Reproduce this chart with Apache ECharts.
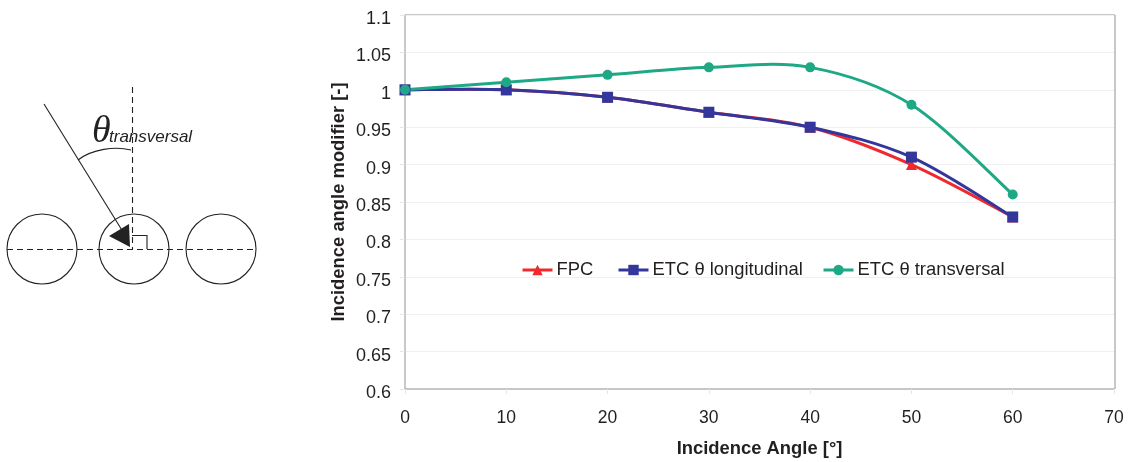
<!DOCTYPE html>
<html><head><meta charset="utf-8">
<style>html,body{margin:0;padding:0;background:#fff}#c{width:1132px;height:462px}</style>
<script src="https://cdn.jsdelivr.net/npm/echarts@6/dist/echarts.min.js"></script></head>
<body><div id="c"></div>
<script>
var angles=[0,10,20,30,40,50,60];
var fpc=[1,1,0.99,0.97,0.95,0.90,0.83];
var etcLong=[1,1,0.99,0.97,0.95,0.91,0.83];
var etcTrans=[1,1.01,1.02,1.03,1.03,0.98,0.86];
var names=['FPC','ETC θ longitudinal','ETC θ transversal'];
var colors=['#ee2a2e','#33369a','#1fa886'];
function pairs(v){return angles.map(function(a,i){return [a,v[i]];});}
var F='"Liberation Sans",Arial,sans-serif';
var INK='#231f20';
var st={stroke:'#222',lineWidth:1.1,fill:'none'};
var dash={stroke:'#222',lineWidth:1.1,lineDash:[6,4]};
function circle(x){return {type:'circle',shape:{cx:x,cy:249,r:35},style:st};}
// Spreadsheet-style smoothed line: Catmull-Rom through the data, placed with the axes' scales.
function curve(values,color){
  return {name:names[colors.indexOf(color)]+' curve',type:'custom',z:2,silent:true,data:pairs(values),encode:{x:0,y:1},
    renderItem:function(params,api){
      var i=params.dataIndex,n=values.length;
      if(i>=n-1) return null;
      var p=function(k){k=Math.max(0,Math.min(n-1,k));return api.coord([angles[k],values[k]]);};
      var p0=p(i-1),p1=p(i),p2=p(i+1),p3=p(i+2);
      return {type:'bezierCurve',shape:{x1:p1[0],y1:p1[1],x2:p2[0],y2:p2[1],
        cpx1:p1[0]+(p2[0]-p0[0])/6,cpy1:p1[1]+(p2[1]-p0[1])/6,
        cpx2:p2[0]-(p3[0]-p1[0])/6,cpy2:p2[1]-(p3[1]-p1[1])/6},
        style:{stroke:color,lineWidth:3,fill:'none'}};
    }};
}
function marks(i,values,symbol,size){
  return {name:names[i],type:'line',z:3,data:pairs(values),symbol:symbol,symbolSize:size,
    lineStyle:{color:colors[i],width:3,opacity:0},itemStyle:{color:colors[i]}};
}
function legend(i,left){
  return {top:261,left:left,itemWidth:30,itemHeight:13,padding:0,
    lineStyle:{opacity:1,width:3},
    textStyle:{fontFamily:F,fontSize:18.4,color:INK,padding:[0,0,0,-1]},data:[names[i]]};
}
var chart=echarts.init(document.getElementById('c'),null,{renderer:'canvas'});
chart.setOption({
 animation:false,
 grid:{left:405,right:18,top:15,bottom:73,show:false,outerBoundsMode:'none'},
 legend:[legend(0,521),legend(1,617),legend(2,822)],
 xAxis:{type:'value',min:0,max:70,interval:10,name:'Incidence Angle [°]',nameLocation:'middle',nameGap:51,nameMoveOverlap:false,
  nameTextStyle:{fontFamily:F,fontSize:18.4,fontWeight:'bold',color:INK},
  axisLine:{show:true,lineStyle:{color:'#b4b6b9',width:1.5}},axisTick:{show:true,length:5,lineStyle:{color:'#e6e6e6'}},
  axisLabel:{fontFamily:F,fontSize:17.5,color:INK,margin:20},splitLine:{show:false}},
 yAxis:{type:'value',min:0.6,max:1.1,interval:0.05,name:'Incidence angle modifier [-]',nameLocation:'middle',nameGap:57,nameMoveOverlap:false,
  nameTextStyle:{fontFamily:F,fontSize:18.4,fontWeight:'bold',color:INK},
  axisLine:{show:true,lineStyle:{color:'#b4b6b9',width:1.5}},axisTick:{show:true,length:5,lineStyle:{color:'#e6e6e6'}},
  axisLabel:{fontFamily:F,fontSize:18,color:INK,margin:14,verticalAlign:'top',lineHeight:8,formatter:function(v){return String(+v.toFixed(2));}},
  splitLine:{show:true,lineStyle:{color:'#f0f0f0',width:1}}},
 series:[
  curve(fpc,colors[0]),curve(etcLong,colors[1]),curve(etcTrans,colors[2]),
  marks(0,fpc,'triangle',11),marks(1,etcLong,'rect',11),marks(2,etcTrans,'circle',10)
 ],
 graphic:{elements:[
  {type:'line',shape:{x1:1115,y1:15,x2:1115,y2:389},style:{stroke:'#b4b6b9',lineWidth:1.5}},
  {type:'line',shape:{x1:405,y1:15,x2:1115,y2:15},style:{stroke:'#b4b6b9',lineWidth:1.5}},
  circle(42),circle(134),circle(221),
  {type:'line',shape:{x1:7,y1:249.5,x2:256,y2:249.5},style:dash},
  {type:'line',shape:{x1:132.5,y1:87,x2:132.5,y2:249},style:dash},
  {type:'line',shape:{x1:44,y1:104,x2:128,y2:240},style:{stroke:'#222',lineWidth:1.1}},
  {type:'polygon',shape:{points:[[129,224],[109,236],[130,247]]},style:{fill:'#222'}},
  {type:'polyline',shape:{points:[[132,235.5],[147,235.5],[147,249]]},style:st},
  {type:'bezierCurve',shape:{x1:78,y1:160,x2:131,y2:150,cpx1:92,cpy1:149,cpx2:115,cpy2:146},style:st},
  {type:'text',x:92,y:113,style:{text:'θ',font:'italic 38px "Liberation Serif",serif',fill:'#222'}},
  {type:'text',x:109,y:129,style:{text:'transversal',font:'italic 17px "Liberation Sans",sans-serif',fill:'#222'}}
 ]}
});
</script></body></html>
